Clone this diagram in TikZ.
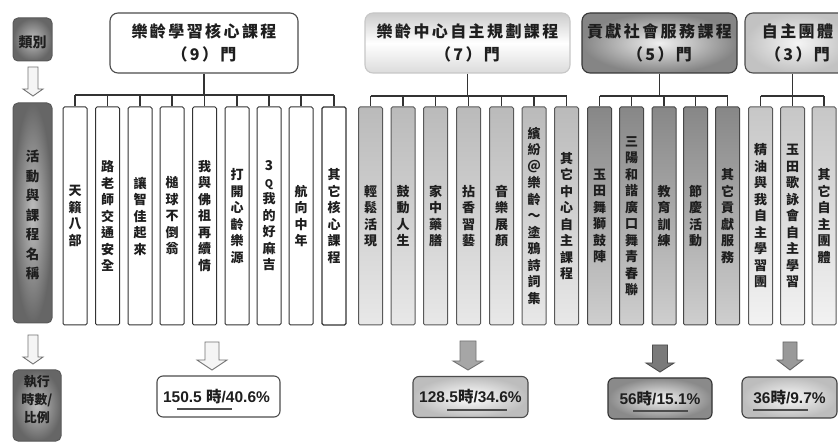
\documentclass[tikz,border=0pt]{standalone}
\usepackage{fontspec}
\setmainfont{Liberation Sans}
\newfontfamily\cjk{Noto Sans CJK TC}
\usetikzlibrary{calc}
\definecolor{ink}{HTML}{1E1E1E}
\newcommand\blockdown[7]{\draw[#7] ({#1-#5},#2) -- ({#1+#5},#2) -- ({#1+#5},#3) -- ({#1+#6},#3) -- (#1,#4) -- ({#1-#6},#3) -- ({#1-#5},#3) -- cycle;}
\tikzset{
  conn/.style={draw=black!80, line width=1.1pt},
  sidebox/.style={draw=black!65, line width=1pt, rounded corners=5pt, inner color=black!25, outer color=black!60, text=ink, align=center, inner sep=0pt},
  sidetext/.style={text=ink, align=center, inner sep=0pt, font=\cjk\bfseries\fontsize{13}{18}\selectfont},
  hdr/.style={rounded corners=8pt, line width=1.1pt, align=center, inner sep=0pt, minimum height=60pt, text=ink,
    font=\cjk\bfseries\fontsize{16}{23.5}\selectfont\addfontfeature{LetterSpace=15}},
  colbox/.style={minimum width=24pt, minimum height=218pt, inner sep=0pt, rounded corners=1.5pt, line width=1pt, align=center, text=ink,
    font=\cjk\bfseries\fontsize{13}{16.5}\selectfont},
  gA/.style={colbox, draw=black!80, fill=white},
  gB/.style={colbox, draw=black!65, top color=black!27, bottom color=black!9},
  gC/.style={colbox, draw=black!72, top color=black!47, bottom color=black!19},
  gD/.style={colbox, draw=black!65, top color=black!22, bottom color=black!5},
  resbox/.style={rounded corners=6pt, line width=1.1pt, inner sep=0pt, minimum height=41pt, text=ink,
    font=\fontsize{15.5}{18}\selectfont\bfseries},
  uline/.style={draw=black!70, line width=1.6pt},
  arrW/.style={draw=black!55, fill=black!4, line width=0.9pt},
  arrB/.style={draw=black!55, fill=black!35, line width=0.9pt},
  arrC/.style={draw=black!70, fill=black!52, line width=0.9pt},
  arrD/.style={draw=black!60, fill=black!40, line width=0.9pt},
}
\begin{document}
\begin{tikzpicture}[x=1pt,y=-1pt]
\clip (0,0) rectangle (838,443);
\fill[white] (0,0) rectangle (838,443);

% left column
\node[sidebox, minimum width=39pt, minimum height=43pt] (s1) at (32.5,39.5) {};
\node[sidetext, font=\cjk\bfseries\fontsize{14}{18}\selectfont] (s1t) at (32.5,42) {類別};
\node[sidebox, minimum width=39pt, minimum height=220pt] (s2) at (32.5,213) {};
\node[sidetext, font=\cjk\bfseries\fontsize{13.5}{19.5}\selectfont] (s2t) at (32.5,215) {活\\動\\與\\課\\程\\名\\稱};
\node[sidebox, minimum width=48pt, minimum height=71pt] (s3) at (37,405.5) {};
\node[sidetext] (s3t) at (37,400) {執行\\時數/\\比例};
\blockdown{33}{67}{89}{96}{5}{10}{arrW}
\blockdown{33}{335}{357}{364}{5}{10}{arrW}

% headers
\node[hdr, draw=black!70, fill=white, minimum width=188pt] (h1) at (204,43) {樂齡學習核心課程\\（9）門};
\node[hdr, draw=black!22, top color=black!20, bottom color=black!14, middle color=white, minimum width=205pt] (h2) at (467.5,43) {樂齡中心自主規劃課程\\（7）門};
\node[hdr, draw=black!78, inner color=black!6, outer color=black!48, minimum width=155pt] (h3) at (659.5,43) {貢獻社會服務課程\\（5）門};
\node[hdr, draw=black!70, inner color=black!4, outer color=black!24, minimum width=105pt] (h4) at (797.5,43) {自主團體\\（3）門};

% group 1 columns
\node[gA] (a1) at (75,216) {天\\籟\\八\\部};
\node[gA] (a2) at (107.5,216) {路\\老\\師\\交\\通\\安\\全};
\node[gA] (a3) at (140,216) {讓\\智\\佳\\起\\來};
\node[gA] (a4) at (172,216) {槌\\球\\不\\倒\\翁};
\node[gA] (a5) at (204.5,216) {我\\與\\佛\\祖\\再\\續\\情};
\node[gA] (a6) at (237,216) {打\\開\\心\\齡\\樂\\源};
\node[gA] (a7) at (269,216) {{\fontsize{13.5}{12}\selectfont 3}\\{\fontsize{10.5}{12}\selectfont Q}\\我\\的\\好\\麻\\吉};
\node[gA] (a8) at (301,216) {航\\向\\中\\年};
\node[gA, line width=1.4pt] (a9) at (334,216) {其\\它\\核\\心\\課\\程};

% group 2 columns
\node[gB] (b1) at (370.5,216) {輕\\鬆\\活\\現};
\node[gB] (b2) at (403,216) {鼓\\動\\人\\生};
\node[gB] (b3) at (435.5,216) {家\\中\\藥\\膳};
\node[gB] (b4) at (468.5,216) {拈\\香\\習\\藝};
\node[gB] (b5) at (501.5,216) {音\\樂\\展\\顏};
\node[gB] (b6) at (534,216) {繽\\紛\\＠\\樂\\齡\\～\\塗\\鴉\\詩\\詞\\集};
\node[gB] (b7) at (566.5,216) {其\\它\\中\\心\\自\\主\\課\\程};

% group 3 columns
\node[gC] (c1) at (599.5,216) {玉\\田\\舞\\獅\\鼓\\陣};
\node[gC] (c2) at (631.5,216) {三\\陽\\和\\諧\\廣\\口\\舞\\青\\春\\聯};
\node[gC] (c3) at (664,216) {教\\育\\訓\\練};
\node[gC] (c4) at (695.5,216) {節\\慶\\活\\動};
\node[gC] (c5) at (727.5,216) {其\\它\\貢\\獻\\服\\務};

% group 4 columns
\node[gD] (d1) at (760.5,216) {精\\油\\與\\我\\自\\主\\學\\習\\團};
\node[gD] (d2) at (792.5,216) {玉\\田\\歌\\詠\\會\\自\\主\\學\\習};
\node[gD] (d3) at (824,216) {其\\它\\自\\主\\團\\體};

% tree connectors
\coordinate (barA) at (0,95);
\coordinate (barB) at (0,96);
\draw[conn] (h1.south) -- (h1.south |- barA);
\draw[conn] (a1.north |- barA) -- (a9.north |- barA);
\foreach \i in {1,...,9} \draw[conn] (a\i.north |- barA) -- (a\i.north);
\draw[conn] (h2.south) -- (h2.south |- barB);
\draw[conn] (b1.north |- barB) -- (b7.north |- barB);
\foreach \i in {1,...,7} \draw[conn] (b\i.north |- barB) -- (b\i.north);
\draw[conn] (h3.south) -- (h3.south |- barB);
\draw[conn] (c1.north |- barB) -- (c5.north |- barB);
\foreach \i in {1,...,5} \draw[conn] (c\i.north |- barB) -- (c\i.north);
\draw[conn] (d2.north |- h4.south) -- (d2.north |- barB);
\draw[conn] (d1.north |- barB) -- (d3.north |- barB);
\foreach \i in {1,...,3} \draw[conn] (d\i.north |- barB) -- (d\i.north);

% bottom arrows
\blockdown{212}{342}{360}{370}{7}{15}{arrW}
\blockdown{468}{341}{361}{370}{8}{15}{arrB}
\blockdown{660}{345}{363}{372}{7.5}{14}{arrC}
\blockdown{790}{342}{360}{370}{7}{13}{arrD}

% result boxes
\node[resbox, draw=black!70, fill=white, minimum width=123pt] (r1) at (218.5,396.5) {\hspace*{-4pt}150.5 {\cjk 時}/40.6\%};
\node[resbox, draw=black!70, inner color=white, outer color=black!26, minimum width=115pt] (r2) at (470.5,397) {128.5{\cjk 時}/34.6\%};
\node[resbox, draw=black!80, inner color=black!5, outer color=black!46, minimum width=104pt] (r3) at (660,398.5) {56{\cjk 時}/15.1\%};
\node[resbox, draw=black!75, inner color=black!3, outer color=black!26, minimum width=95pt] (r4) at (789.5,397.5) {36{\cjk 時}/9.7\%};
\draw[uline] ($(r1.center)+(-41.5,12.5)$) -- ++(55,0);
\draw[uline] ($(r2.center)+(-23.5,13)$) -- ++(60,0);
\draw[uline] ($(r3.center)+(-27,12.5)$) -- ++(55,0);
\draw[uline] ($(r4.center)+(-36.5,12.5)$) -- ++(55,0);
\end{tikzpicture}
\end{document}
